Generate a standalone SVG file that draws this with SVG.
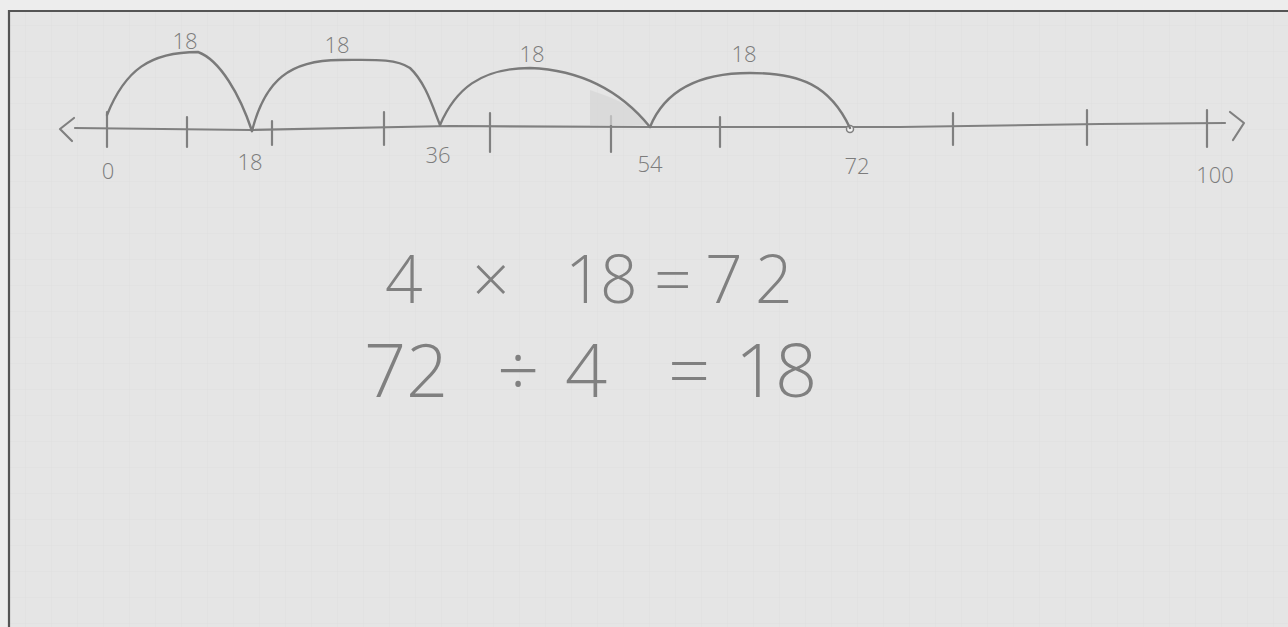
<svg xmlns="http://www.w3.org/2000/svg" width="1288" height="627" viewBox="0 0 1288 627">
<defs>
<pattern id="grid" width="26" height="26" patternUnits="userSpaceOnUse">
<path d="M26 0V26M0 26H26" fill="none" stroke="#d9d9d9" stroke-width="1" opacity="0.6"/>
</pattern>
</defs>
<style>
.pen{fill:none;stroke:#808080;stroke-width:2.2;stroke-linecap:round;stroke-linejoin:round}
.arc{fill:none;stroke:#7a7a7a;stroke-width:2.4;stroke-linecap:round}
.lbl{font-family:"Open Sans","DejaVu Sans",sans-serif;font-weight:300;fill:#7c7c7c;font-size:22px}
.eq{font-family:"Open Sans","DejaVu Sans",sans-serif;font-weight:300;fill:#808080}
</style>
<rect x="0" y="0" width="1288" height="627" fill="#ededed"/>
<rect x="9" y="11" width="1290" height="630" fill="#e5e5e5"/>
<rect x="9" y="11" width="1290" height="630" fill="url(#grid)"/>
<path d="M9 627V11H1288" fill="none" stroke="#555" stroke-width="2.2"/>

<g id="number-line">
<path class="pen" d="M75 128 L250 130 L450 126 L650 127 L900 127 L1100 124 L1225 123"/>
<path class="pen" d="M74 118 L60 129 L72 141"/>
<path class="pen" d="M1230 112 L1244 123 L1233 140"/>
<g class="pen">
<path d="M107 112V147"/><path d="M187 117V147"/><path d="M272 121V145"/><path d="M384 112V145"/>
<path d="M490 113V152"/><path d="M611 116V152"/><path d="M720 117V147"/><path d="M953 113V145"/>
<path d="M1087 110V145"/><path d="M1207 110V147"/>
</g>
<circle cx="850" cy="129" r="3.5" fill="#f4f4f4" stroke="#808080" stroke-width="1.5"/>
</g>

<g id="jumps">
<path d="M590 90 C620 100 640 110 648 125 L590 125 Z" fill="#d5d5d5" opacity="0.7"/>
<path class="arc" d="M107 115 C125 70 150 52 198 52 C220 60 240 95 252 131"/>
<path class="arc" d="M252 131 C265 80 290 60 340 60 C370 60 395 58 410 68 C425 82 432 105 440 125"/>
<path class="arc" d="M440 125 C455 90 480 68 530 68 C580 70 620 90 650 127"/>
<path class="arc" d="M650 127 C665 90 700 73 750 73 C800 73 830 85 850 128"/>
</g>

<g id="labels">
<text class="lbl" x="185" y="49" text-anchor="middle">18</text>
<text class="lbl" x="337" y="53" text-anchor="middle">18</text>
<text class="lbl" x="532" y="62" text-anchor="middle">18</text>
<text class="lbl" x="744" y="62" text-anchor="middle">18</text>
<text class="lbl" x="108" y="179" text-anchor="middle">0</text>
<text class="lbl" x="250" y="170" text-anchor="middle">18</text>
<text class="lbl" x="438" y="163" text-anchor="middle">36</text>
<text class="lbl" x="650" y="172" text-anchor="middle">54</text>
<text class="lbl" x="857" y="174" text-anchor="middle">72</text>
<text class="lbl" x="1215" y="183" text-anchor="middle" font-size="18">100</text>
</g>

<g id="equations">
<text class="eq" font-size="66" x="385 440 472 530 565 600 640 654 695 705 755" y="303">4 × 18 = 72</text>
<text class="eq" font-size="74" x="364 406 460 497 540 565 620 668 710 735 775" y="397">72 ÷ 4 = 18</text>
</g>
</svg>
